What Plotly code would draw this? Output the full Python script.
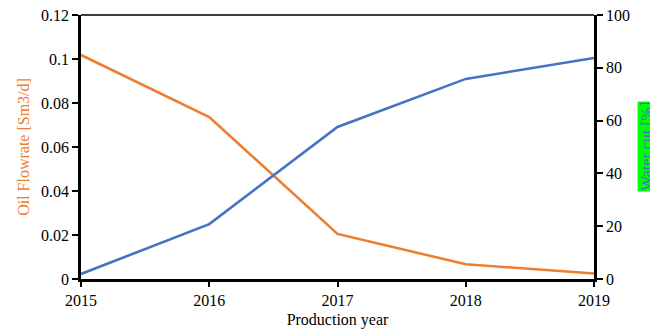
import plotly.graph_objects as go

years = [2015, 2016, 2017, 2018, 2019]
oil_flowrate = [0.1018, 0.0736, 0.0205, 0.0067, 0.0025]
water_cut = [1.9, 20.8, 57.6, 75.8, 83.7]

left_ticks = [0, 0.02, 0.04, 0.06, 0.08, 0.1, 0.12]
left_labels = ["0", "0.02", "0.04", "0.06", "0.08", "0.1", "0.12"]
right_ticks = [0, 20, 40, 60, 80, 100]

ORANGE = "#ED7D31"
BLUE = "#4472C4"
FONT = "Times New Roman, Liberation Serif, serif"
TICKFONT = dict(family=FONT, size=16, color="#000000")

fig = go.Figure()
fig.add_trace(go.Scatter(x=years, y=water_cut, yaxis="y2", mode="lines",
                         line=dict(color=BLUE, width=2.6), showlegend=False))
fig.add_trace(go.Scatter(x=years, y=oil_flowrate, yaxis="y", mode="lines",
                         line=dict(color=ORANGE, width=2.6), showlegend=False))

fig.update_layout(
    width=650, height=329,
    margin=dict(l=81, r=56, t=15, b=50),
    paper_bgcolor="white", plot_bgcolor="white",
    font=dict(family=FONT, size=16, color="#000000"),
    xaxis=dict(range=[2015, 2019], tickvals=years, ticks="outside", ticklen=5,
               tickwidth=1.5, tickcolor="#000", showline=True, linecolor="#000",
               linewidth=2.5, showgrid=False, zeroline=False, automargin=False,
               tickfont=TICKFONT,
               title=dict(text="Production year", standoff=6,
                          font=dict(family=FONT, size=16, color="#000"))),
    yaxis=dict(range=[0, 0.12], tickvals=left_ticks, ticktext=left_labels,
               ticks="outside", ticklen=6, tickwidth=1.5, tickcolor="#000",
               showline=True, linecolor="#000", linewidth=2.5, showgrid=False,
               zeroline=False, automargin=False, tickfont=TICKFONT,
               title=dict(text="Oil Flowrate [Sm3/d]", standoff=8,
                          font=dict(family=FONT, size=16, color=ORANGE))),
    yaxis2=dict(range=[0, 100], tickvals=right_ticks, overlaying="y",
                side="right", ticks="outside", ticklen=6, tickwidth=1.5,
                tickcolor="#000", showline=True, linecolor="#000", linewidth=2.5,
                showgrid=False, zeroline=False, automargin=False,
                tickfont=TICKFONT),
    shapes=[dict(type="line", xref="paper", yref="paper", x0=0, x1=1, y0=1, y1=1,
                 line=dict(color="#404040", width=2))],
    annotations=[dict(text="Water cut [%]", xref="paper", yref="paper",
                      x=1.083, y=0.50, xanchor="left", yanchor="middle",
                      textangle=-90, showarrow=False, bgcolor="#00FF00",
                      borderpad=0,
                      font=dict(family=FONT, size=16, color=BLUE))],
)

fig.write_html("out.html")
